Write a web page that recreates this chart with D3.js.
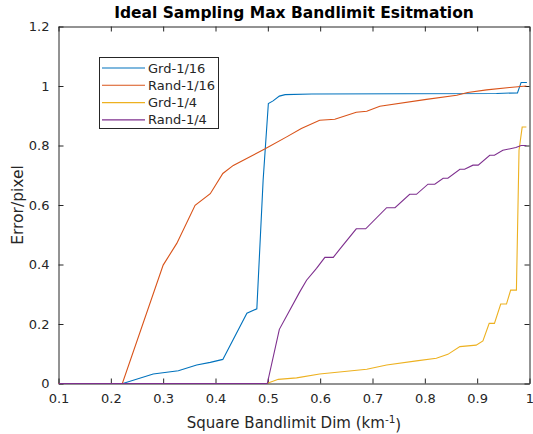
<!DOCTYPE html>
<html>
<head>
<meta charset="utf-8">
<script src="https://cdn.jsdelivr.net/npm/d3@7"></script>
<style>
  body { margin: 0; background: #fff; }
  text { font-family: "DejaVu Sans", sans-serif; fill: #262626; }
</style>
</head>
<body>
<div id="chart"></div>
<script>
// data
var seriesNames = ["Grd-1/16", "Rand-1/16", "Grd-1/4", "Rand-1/4"];
var seriesColors = ["#0072BD", "#D95319", "#EDB120", "#7E2F8E"];

var grd16X = [0.1, 0.223, 0.281, 0.329, 0.364, 0.390, 0.414, 0.460, 0.479, 0.491, 0.501, 0.510, 0.522, 0.533, 0.584, 0.937, 0.977, 0.984, 0.995];
var grd16Y = [0, 0, 0.032, 0.043, 0.062, 0.071, 0.081, 0.236, 0.251, 0.683, 0.941, 0.950, 0.966, 0.971, 0.973, 0.975, 0.977, 1.012, 1.012];

var rand16X = [0.1, 0.222, 0.300, 0.326, 0.361, 0.390, 0.414, 0.434, 0.494, 0.536, 0.564, 0.599, 0.628, 0.669, 0.689, 0.714, 0.803, 0.861, 0.882, 0.918, 0.962, 0.994];
var rand16Y = [0, 0, 0.398, 0.471, 0.599, 0.638, 0.706, 0.733, 0.788, 0.829, 0.857, 0.885, 0.888, 0.912, 0.915, 0.932, 0.955, 0.969, 0.978, 0.987, 0.995, 1.0];

var grd4X = [0.1, 0.498, 0.520, 0.555, 0.599, 0.689, 0.727, 0.784, 0.822, 0.844, 0.867, 0.898, 0.911, 0.923, 0.933, 0.945, 0.956, 0.964, 0.975, 0.980, 0.986, 0.994];
var grd4Y = [0, 0, 0.014, 0.019, 0.032, 0.048, 0.062, 0.076, 0.085, 0.098, 0.124, 0.129, 0.143, 0.202, 0.202, 0.267, 0.267, 0.314, 0.314, 0.784, 0.862, 0.862];

var rand4X = [0.1, 0.499, 0.522, 0.561, 0.574, 0.593, 0.609, 0.625, 0.641, 0.669, 0.687, 0.727, 0.743, 0.771, 0.784, 0.806, 0.819, 0.835, 0.844, 0.867, 0.876, 0.892, 0.902, 0.924, 0.933, 0.949, 0.974, 0.984, 0.994];
var rand4Y = [0, 0, 0.182, 0.308, 0.347, 0.387, 0.424, 0.424, 0.459, 0.520, 0.520, 0.591, 0.591, 0.636, 0.636, 0.670, 0.670, 0.690, 0.690, 0.720, 0.720, 0.734, 0.734, 0.767, 0.767, 0.784, 0.793, 0.800, 0.800];

var xTicks = [0.1, 0.2, 0.3, 0.4, 0.5, 0.6, 0.7, 0.8, 0.9, 1];
var yTicks = [0, 0.2, 0.4, 0.6, 0.8, 1, 1.2];

var margin = {
  top: 26,
  right: 3,
  bottom: 50,
  left: 58
};
var width = 533 - margin.left - margin.right;
var height = 434 - margin.top - margin.bottom;

var svg = d3.select("#chart").append("svg")
  .attr("width", width + margin.left + margin.right)
  .attr("height", height + margin.top + margin.bottom)
  .append("g")
  .attr("transform", "translate(" + margin.left + "," + margin.top + ")");

var x = d3.scaleLinear().domain([0.1, 1]).range([0.5, 471.5]);
var y = d3.scaleLinear().domain([0, 1.2]).range([357.5, 0.5]);

var fmt = function(d) { return d3.format("~g")(d); };

// axes, ticks pointing inward like matlab
var xAxis = svg.append("g")
  .attr("transform", "translate(0," + y(0) + ")")
  .call(d3.axisBottom(x).tickValues(xTicks).tickFormat(fmt).tickSizeInner(-5).tickSizeOuter(0).tickPadding(10));
var xAxisTop = svg.append("g")
  .attr("transform", "translate(0," + y(1.2) + ")")
  .call(d3.axisTop(x).tickValues(xTicks).tickFormat("").tickSizeInner(-5).tickSizeOuter(0));
var yAxis = svg.append("g")
  .attr("transform", "translate(" + x(0.1) + ",0)")
  .call(d3.axisLeft(y).tickValues(yTicks).tickFormat(fmt).tickSizeInner(-5).tickSizeOuter(0).tickPadding(9));
var yAxisRight = svg.append("g")
  .attr("transform", "translate(" + x(1) + ",0)")
  .call(d3.axisRight(y).tickValues(yTicks).tickFormat("").tickSizeInner(-5).tickSizeOuter(0));

[xAxis, xAxisTop, yAxis, yAxisRight].forEach(function(a) {
  a.selectAll("path").attr("stroke", "#262626");
  a.selectAll("line").attr("stroke", "#262626");
  a.selectAll("text").style("font-size", "13px").style("font-family", "DejaVu Sans").attr("fill", "#404040");
});

// lines
var allSeries = [
  { xs: grd16X, ys: grd16Y },
  { xs: rand16X, ys: rand16Y },
  { xs: grd4X, ys: grd4Y },
  { xs: rand4X, ys: rand4Y }
];

var linefunc = d3.line()
  .x(function(d) { return x(d[0]); })
  .y(function(d) { return y(d[1]); });

allSeries.forEach(function(s, i) {
  var pts = s.xs.map(function(v, j) { return [v, s.ys[j]]; });
  svg.append("path")
    .attr("d", linefunc(pts))
    .attr("stroke", seriesColors[i])
    .attr("stroke-width", 1.1)
    .attr("fill", "none");
});

// legend
var legend = svg.append("g").attr("transform", "translate(41,31)");
legend.append("rect")
  .attr("x", 0.5).attr("y", 0.5)
  .attr("width", 119).attr("height", 71)
  .attr("fill", "#fff")
  .attr("stroke", "#262626");
seriesNames.forEach(function(name, i) {
  var ly = 11 + i * 17.3;
  legend.append("line")
    .attr("x1", 3).attr("x2", 46)
    .attr("y1", ly).attr("y2", ly)
    .attr("stroke", seriesColors[i])
    .attr("stroke-width", 1.1);
  legend.append("text")
    .attr("x", 49).attr("y", ly)
    .attr("dy", "0.35em")
    .style("font-size", "13px")
    .text(name);
});

// title and labels
svg.append("text")
  .attr("x", width / 2)
  .attr("y", -8)
  .style("text-anchor", "middle")
  .style("font-size", "15.5px")
  .style("font-weight", "bold")
  .style("fill", "#000")
  .text("Ideal Sampling Max Bandlimit Esitmation");

var xl = svg.append("text")
  .attr("x", width / 2)
  .attr("y", height + 44)
  .style("text-anchor", "middle")
  .style("font-size", "15px");
xl.append("tspan").text("Square Bandlimit Dim (km");
xl.append("tspan").attr("dy", "-0.45em").style("font-size", "10.5px").text("-1");
xl.append("tspan").attr("dy", "0.45em").text(")");

svg.append("text")
  .attr("transform", "rotate(-90)")
  .attr("x", -height / 2)
  .attr("y", -35)
  .style("text-anchor", "middle")
  .style("font-size", "15.5px")
  .text("Error/pixel");
</script>
</body>
</html>
